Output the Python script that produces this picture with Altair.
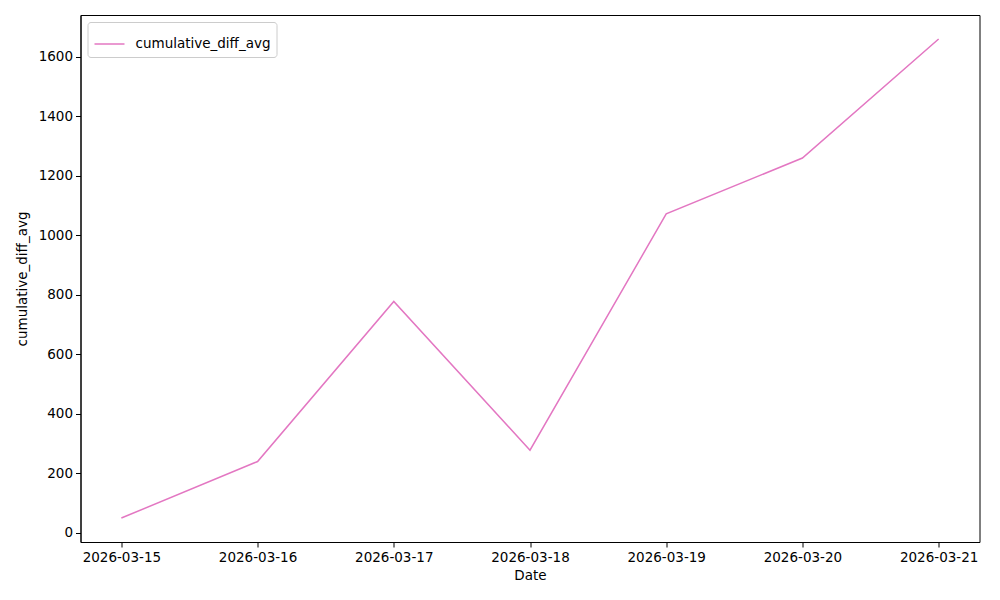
import altair as alt
import pandas as pd

dates = ["2026-03-15", "2026-03-16", "2026-03-17", "2026-03-18",
         "2026-03-19", "2026-03-20", "2026-03-21"]
values = [50, 240, 778, 278, 1072, 1260, 1660]
series = "cumulative_diff_avg"

df = pd.DataFrame({"idx": list(range(len(dates))), "date": dates,
                   "value": values, "series": [series] * len(dates)})

label_expr = "[" + ",".join(f"'{d}'" for d in dates) + "][round(datum.value)]"

font = "DejaVu Sans"
fs = 13.5

chart = alt.Chart(df).mark_line(strokeWidth=1.5).encode(
    x=alt.X("idx:Q", title="Date",
            scale=alt.Scale(domain=[-0.3, 6.3], nice=False, zero=False),
            axis=alt.Axis(values=list(range(len(dates))), labelExpr=label_expr,
                          grid=False, tickColor="black", domainColor="black",
                          tickSize=5, labelFontSize=fs, titleFontSize=fs,
                          labelFont=font, titleFont=font, titleFontWeight="normal",
                          labelColor="black", titleColor="black", labelPadding=3,
                          titlePadding=5)),
    y=alt.Y("value:Q", title="cumulative_diff_avg",
            scale=alt.Scale(domain=[-30.5, 1740.5], nice=False, zero=False),
            axis=alt.Axis(values=list(range(0, 1601, 200)), format="d", grid=False,
                          tickColor="black", domainColor="black", tickSize=5,
                          labelFontSize=fs, titleFontSize=fs, labelFont=font,
                          titleFont=font, titleFontWeight="normal",
                          labelColor="black", titleColor="black", labelPadding=3,
                          titlePadding=9)),
    color=alt.Color("series:N", scale=alt.Scale(range=["#e377c2"]),
                    legend=alt.Legend(title=None, orient="top-left", offset=7,
                                      labelFont=font, labelFontSize=fs,
                                      labelColor="black", symbolType="stroke",
                                      symbolSize=900, symbolStrokeWidth=1.5,
                                      labelOffset=10,
                                      strokeColor="#cccccc", fillColor="white",
                                      cornerRadius=3, padding=6)),
).properties(
    width=899, height=527,
    autosize=alt.AutoSizeParams(type="none"),
    padding={"left": 72.5, "top": 7, "right": 12, "bottom": 50},
).configure_view(stroke="black", strokeWidth=1)

chart.save("out.html", embed_options={"renderer": "svg", "actions": False})
